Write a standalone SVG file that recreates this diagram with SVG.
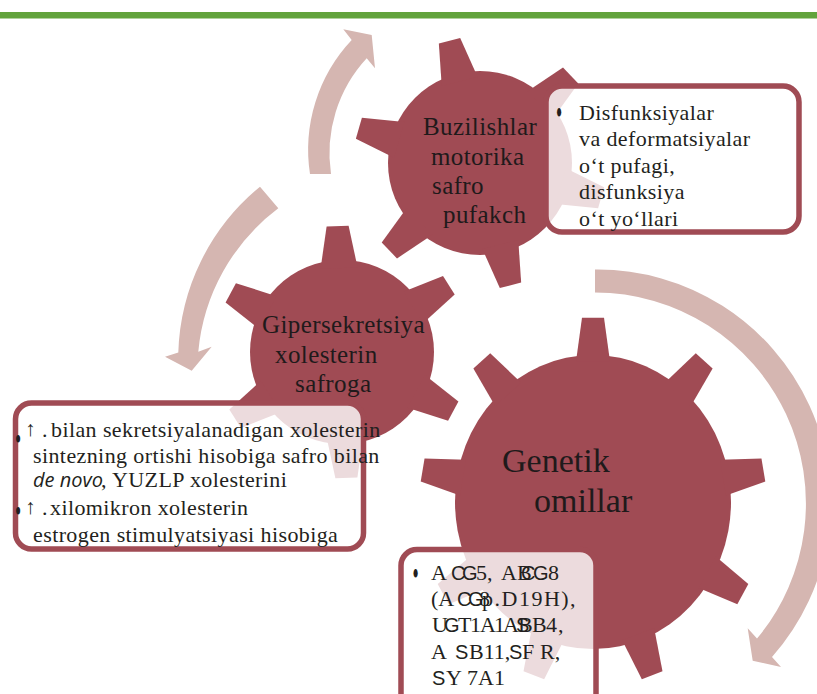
<svg xmlns="http://www.w3.org/2000/svg" xmlns:xlink="http://www.w3.org/1999/xlink" width="817" height="694" viewBox="0 0 817 694">
<style>
.gear{fill:#a04b54}
.arrow{fill:#d5b6b1}
.box{fill:#ffffff;fill-opacity:0.8;stroke:#a04b54;stroke-width:5.5}
.gt{font-family:"Liberation Serif","Times New Roman",serif;font-size:25px;letter-spacing:0.4px;fill:#1f1a1b}
.big{font-family:"Liberation Serif","Times New Roman",serif;font-size:34px;fill:#1f1a1b}
.bt{font-family:"Liberation Serif","Times New Roman",serif;font-size:22px;letter-spacing:0.4px;fill:#231f20}
.bb{font-family:"Liberation Serif","Times New Roman",serif;font-size:22px;fill:#231f20}
.sn{font-family:"Liberation Sans",Arial,sans-serif;font-size:20px}
.it{font-family:"Open Sans","DejaVu Sans",sans-serif;font-style:italic;font-size:20px;letter-spacing:0}
.ar{font-family:"Liberation Serif","DejaVu Serif",serif;font-size:21px;fill:#231f20}
.bul{font-family:"Liberation Serif","Times New Roman",serif;font-size:22px;fill:#231f20}
</style>
<defs>
<polygon id="ts" points="-18.5,-84 -11,-126 11,-126 18.5,-84"/>
<polygon id="tb" points="-17,-132 -11,-173 11,-173 17,-132"/>
</defs>
<rect id="topbar" x="0" y="12" width="817" height="6.5" fill="#62a33c"/>
<g id="connectors">
<path class="arrow" d="M 595 269.5 A 233 233 0 0 1 772 657 L 781 667 L 752.7 660.7 L 747.7 628.3 L 757 638.6 A 211 211 0 0 0 595 292.5 Z"/>
<path class="arrow" d="M 310 174 A 160 160 0 0 1 351.7 40 L 343.3 29.3 L 371.7 35 L 375 68.3 L 366.7 58.3 A 140 140 0 0 0 331 174 Z"/>
<path class="arrow" d="M 260 186.7 A 223 223 0 0 0 178.3 352.5 L 165 356.7 L 191.7 370.7 L 211.7 346.7 L 198.3 351.7 A 202 202 0 0 1 278.3 208.3 Z"/>
</g>
<g id="gear-genetik">
<g class="gear" transform="translate(593 502) scale(1 1.065)">
<circle r="138"/>
<use xlink:href="#tb" transform="rotate(0)"/>
<use xlink:href="#tb" transform="rotate(40)"/>
<use xlink:href="#tb" transform="rotate(80)"/>
<use xlink:href="#tb" transform="rotate(120)"/>
<use xlink:href="#tb" transform="rotate(160)"/>
<use xlink:href="#tb" transform="rotate(200)"/>
<use xlink:href="#tb" transform="rotate(240)"/>
<use xlink:href="#tb" transform="rotate(280)"/>
<use xlink:href="#tb" transform="rotate(320)"/>
</g>
<text class="big" x="502" y="472">Genetik</text>
<text class="big" x="534" y="512">omillar</text>
</g>
<g id="gear-buzilishlar">
<g class="gear" transform="translate(480 163)">
<circle r="92"/>
<use xlink:href="#ts" transform="rotate(-14)"/>
<use xlink:href="#ts" transform="rotate(46)"/>
<use xlink:href="#ts" transform="rotate(106)"/>
<use xlink:href="#ts" transform="rotate(166)"/>
<use xlink:href="#ts" transform="rotate(226)"/>
<use xlink:href="#ts" transform="rotate(286)"/>
</g>
<text class="gt" x="423" y="135">Buzilishlar</text>
<text class="gt" x="431" y="165">motorika</text>
<text class="gt" x="432" y="194">safro</text>
<text class="gt" x="443" y="223">pufakch</text>
</g>
<g id="gear-gipersekretsiya">
<g class="gear" transform="translate(342 352)">
<circle r="92"/>
<use xlink:href="#ts" transform="rotate(-2)"/>
<use xlink:href="#ts" transform="rotate(58)"/>
<use xlink:href="#ts" transform="rotate(118)"/>
<use xlink:href="#ts" transform="rotate(178)"/>
<use xlink:href="#ts" transform="rotate(238)"/>
<use xlink:href="#ts" transform="rotate(298)"/>
</g>
<text class="gt" x="262" y="333">Gipersekretsiya</text>
<text class="gt" x="275" y="363">xolesterin</text>
<text class="gt" x="295" y="392">safroga</text>
</g>
<g id="box-disfunksiya">
<rect class="box" x="546" y="86" width="253" height="146" rx="16"/>
<text class="bul" transform="translate(559 111) scale(0.8 1.6)" x="0" y="8.5" text-anchor="middle">•</text>
<text class="bt" x="579" y="119.5">Disfunksiyalar</text>
<text class="bt" x="579" y="146">va deformatsiyalar</text>
<text class="bt" x="579" y="172.5">o‘t pufagi,</text>
<text class="bt" x="579" y="199">disfunksiya</text>
<text class="bt" x="579" y="225.5">o‘t yo‘llari</text>
</g>
<g id="box-sekretsiya">
<rect class="box" x="15.5" y="403" width="348" height="146" rx="16"/>
<text class="bul" transform="translate(18 438.5) scale(0.8 1.4)" x="0" y="8.5" text-anchor="middle">•</text>
<text class="ar" x="25" y="435.5">↑</text>
<text class="bb" x="42" y="436.5">.</text>
<text class="bt" x="51" y="436.7">bilan sekretsiyalanadigan xolesterin</text>
<text class="bt" x="33" y="463.3">sintezning ortishi hisobiga safro bilan</text>
<text class="bt" x="33" y="487"><tspan class="it">de novo</tspan><tspan x="101">, YUZLP xolesterini</tspan></text>
<text class="bul" transform="translate(18 510.5) scale(0.8 1.4)" x="0" y="8.5" text-anchor="middle">•</text>
<text class="ar" x="25" y="513.5">↑</text>
<text class="bb" x="42" y="514.5">.</text>
<text class="bt" x="50" y="515">xilomikron xolesterin</text>
<text class="bt" x="33" y="542">estrogen stimulyatsiyasi hisobiga</text>
</g>
<g id="box-genlar">
<rect class="box" x="401" y="549.5" width="195" height="175" rx="16"/>
<text class="bul" transform="translate(415.5 572) scale(0.8 1.6)" x="0" y="8.5" text-anchor="middle">•</text>
<text class="bb" y="580"><tspan x="431">A</tspan><tspan class="sn" x="451 462">CG</tspan><tspan x="476">5,</tspan><tspan x="501">AB</tspan><tspan class="sn" x="521 533">CG</tspan><tspan x="548">8</tspan></text>
<text class="bb" y="606"><tspan x="431">(A</tspan><tspan class="sn" x="457 468">CG</tspan><tspan x="479">8</tspan><tspan x="482" letter-spacing="1.5">p.D19H),</tspan></text>
<text class="bb" y="632"><tspan x="432">U</tspan><tspan class="sn" x="444">G</tspan><tspan x="458 470 480 494 503">T1A1A</tspan><tspan class="sn" x="516">S</tspan><tspan x="518">B</tspan><tspan x="532 546 558">B4,</tspan></text>
<text class="bb" y="659"><tspan x="431">A</tspan><tspan class="sn" x="455">S</tspan><tspan x="469">B11,</tspan><tspan class="sn" x="509">S</tspan><tspan x="522">F</tspan><tspan x="540">R,</tspan></text>
<text class="bb" y="685"><tspan class="sn" x="432">S</tspan><tspan x="446">Y</tspan><tspan x="467">7A1</tspan></text>
</g>
</svg>
